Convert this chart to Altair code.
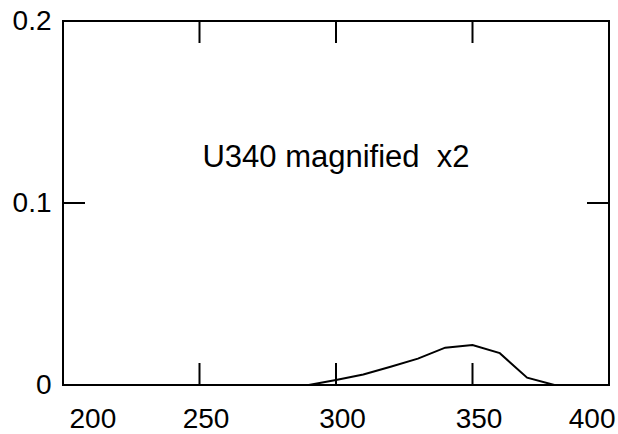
import altair as alt
import pandas as pd

# Series: U340 filter transmission (magnified x2)
wavelength = [280, 290, 300, 310, 320, 330, 340, 350, 360, 370, 380, 390, 400]
u340 = [0.0, 0.0, 0.0028, 0.0058, 0.0100, 0.0145, 0.0205, 0.0220, 0.0175, 0.0040, 0.0, 0.0, 0.0]

x_tick_labels = [200, 250, 300, 350, 400]
y_tick_labels = [0, 0.1, 0.2]
x_inner_ticks = [250, 300, 350]
y_inner_ticks = [0.1]

annot_text = ["U340 magnified\u00a0 x2"]
annot_x = [300]
annot_y = [0.12]

FONT = "Liberation Sans"

line_df = pd.DataFrame({"wl": wavelength, "val": u340})
xt_df = pd.DataFrame({"wl": x_inner_ticks})
yt_df = pd.DataFrame({"val": y_inner_ticks})
txt_df = pd.DataFrame({"wl": annot_x, "val": annot_y, "label": annot_text})

W, H = 546, 364
TL = 22

xscale = alt.Scale(domain=[200, 400], nice=False, zero=False)
yscale = alt.Scale(domain=[0, 0.2], nice=False)

xaxis = alt.Axis(
    values=x_tick_labels, title=None, grid=False, domain=False, ticks=False,
    labelFontSize=28, labelFont=FONT, labelColor="black", labelPadding=20,
    labelFlush=True, labelOffset=6, labelExpr="datum.value"
)
yaxis = alt.Axis(
    values=y_tick_labels, title=None, grid=False, domain=False, ticks=False,
    labelFontSize=28, labelFont=FONT, labelColor="black", labelPadding=12,
    labelExpr="datum.value == 0 ? '0' : format(datum.value, '.1f')"
)

line = alt.Chart(line_df).mark_line(color="black", strokeWidth=2).encode(
    x=alt.X("wl:Q", scale=xscale, axis=xaxis),
    y=alt.Y("val:Q", scale=yscale, axis=yaxis),
)

top_ticks = alt.Chart(xt_df).mark_rule(color="black", strokeWidth=2).encode(
    x=alt.X("wl:Q", scale=xscale), y=alt.value(0), y2=alt.value(TL)
)
bottom_ticks = alt.Chart(xt_df).mark_rule(color="black", strokeWidth=2).encode(
    x=alt.X("wl:Q", scale=xscale), y=alt.value(H), y2=alt.value(H - TL)
)
left_ticks = alt.Chart(yt_df).mark_rule(color="black", strokeWidth=2).encode(
    y=alt.Y("val:Q", scale=yscale), x=alt.value(0), x2=alt.value(TL)
)
right_ticks = alt.Chart(yt_df).mark_rule(color="black", strokeWidth=2).encode(
    y=alt.Y("val:Q", scale=yscale), x=alt.value(W), x2=alt.value(W - TL)
)

text = alt.Chart(txt_df).mark_text(
    font=FONT, fontSize=31, color="black", align="center", baseline="alphabetic"
).encode(
    x=alt.X("wl:Q", scale=xscale), y=alt.Y("val:Q", scale=yscale), text="label:N"
)

chart = alt.layer(line, top_ticks, bottom_ticks, left_ticks, right_ticks, text).properties(
    width=W, height=H,
    autosize=alt.AutoSizeParams(type="none"),
    padding={"left": 63, "top": 21, "right": 9, "bottom": 49},
    background="white",
).configure_view(stroke="black", strokeWidth=2)

chart.save("out.html", embed_options={"renderer": "svg", "actions": False})
